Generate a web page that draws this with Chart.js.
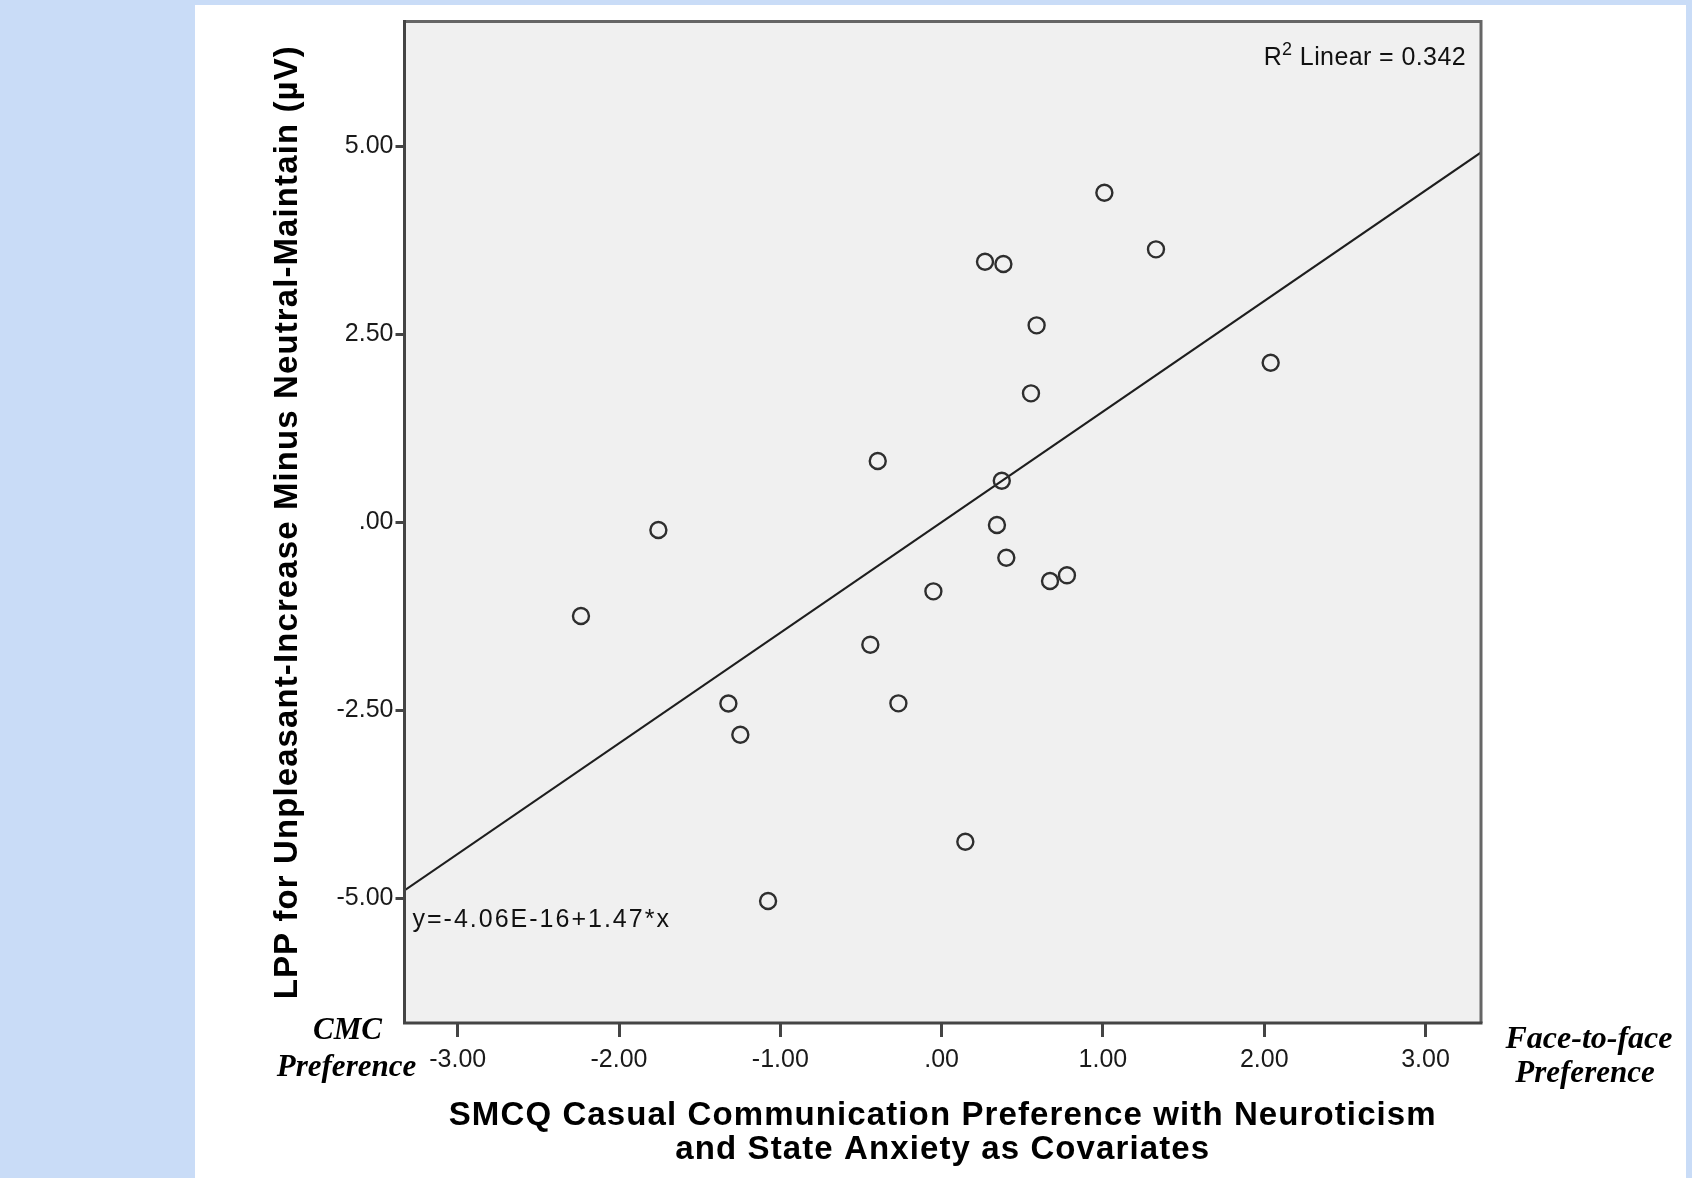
<!DOCTYPE html>
<html>
<head>
<meta charset="utf-8">
<title>LPP vs SMCQ Casual Communication Preference</title>
<script src="https://cdn.jsdelivr.net/npm/chart.js@4.4.1/dist/chart.umd.min.js"></script>
<style>
  html, body { margin: 0; padding: 0; background: #c9dcf7; }
  #wrap { width: 1692px; height: 1178px; }
  canvas { display: block; }
</style>
</head>
<body>
<div id="wrap"><canvas id="chart" width="1692" height="1178"></canvas></div>
<script>
// SMCQ casual communication preference (residualised on neuroticism and state anxiety)
const smcqPref = [1.009, 1.329, 0.269, 0.383, 0.589, 2.040, 0.554, -0.396, 0.373, -1.756, 0.343,
                  0.401, 0.672, 0.777, -0.051, -2.236, -0.442, -1.322, -0.268, -1.248, 0.147, -1.076];
// LPP difference score, unpleasant-increase minus neutral-maintain (µV)
const lppDiff = [4.38, 3.627, 3.463, 3.432, 2.617, 2.120, 1.713, 0.813, 0.552, -0.104, -0.037,
                 -0.472, -0.782, -0.706, -0.919, -1.247, -1.628, -2.410, -2.408, -2.825, -4.247, -5.035];

// Linear fit reported by the analysis
const fitIntercept = -4.06e-16;
const fitSlope = 1.47;
const r2Linear = 0.342;

// Axis extents and tick labels
const xRange = [-3.33, 3.344];
const yRange = [-6.657, 6.656];
const xTickValues = [-3, -2, -1, 0, 1, 2, 3];
const xTickLabels = ['-3.00', '-2.00', '-1.00', '.00', '1.00', '2.00', '3.00'];
const yTickValues = [-5, -2.5, 0, 2.5, 5];
const yTickLabels = ['-5.00', '-2.50', '.00', '2.50', '5.00'];

// Text
const xTitleLines = ['SMCQ Casual Communication Preference with Neuroticism', 'and State Anxiety as Covariates'];
const yTitle = 'LPP for Unpleasant-Increase Minus Neutral-Maintain (µV)';
const leftAnchor = ['CMC', 'Preference'];
const rightAnchor = ['Face-to-face', 'Preference'];

const points = smcqPref.map((x, i) => ({ x: x, y: lppDiff[i] }));
const fitLine = xRange.map(x => ({ x: x, y: fitIntercept + fitSlope * x }));

const SANS = '"Liberation Sans", Arial, sans-serif';
const SERIF = '"Liberation Serif", "Times New Roman", serif';

function eqText() {
  const b0 = fitIntercept.toExponential(2).toUpperCase();
  return 'y=' + b0 + '+' + fitSlope.toFixed(2) + '*x';
}

const backdrop = {
  id: 'backdrop',
  beforeDraw(chart) {
    const { ctx, chartArea: a, width, height } = chart;
    ctx.save();
    ctx.fillStyle = '#c9dcf7';
    ctx.fillRect(0, 0, width, height);
    ctx.fillStyle = '#ffffff';
    ctx.fillRect(195, 5, 1491, height - 5);
    ctx.fillStyle = '#f0f0f0';
    ctx.fillRect(a.left, a.top, a.right - a.left, a.bottom - a.top);
    ctx.restore();
  }
};

const frameAndText = {
  id: 'frameAndText',
  afterDraw(chart) {
    const { ctx, chartArea: a } = chart;
    ctx.save();
    // plot frame
    ctx.lineWidth = 3;
    ctx.strokeStyle = '#666666';
    ctx.beginPath();
    ctx.moveTo(a.left, a.top); ctx.lineTo(a.right, a.top); ctx.lineTo(a.right, a.bottom);
    ctx.stroke();
    ctx.strokeStyle = '#444444';
    ctx.beginPath();
    ctx.moveTo(a.left, a.top - 1.5); ctx.lineTo(a.left, a.bottom); ctx.lineTo(a.right + 1.5, a.bottom);
    ctx.stroke();

    ctx.fillStyle = '#111111';
    // R-squared note, top right
    ctx.textBaseline = 'alphabetic';
    ctx.letterSpacing = '0.4px';
    ctx.font = '25px ' + SANS;
    const rest = ' Linear = ' + r2Linear.toFixed(3);
    const wR = ctx.measureText('R').width;
    const wRest = ctx.measureText(rest).width;
    ctx.font = '18px ' + SANS;
    const wSup = ctx.measureText('2').width;
    const rx = a.right - 15 - (wR + wSup + wRest);
    const ry = a.top + 43;
    ctx.textAlign = 'left';
    ctx.font = '25px ' + SANS;
    ctx.fillText('R', rx, ry);
    ctx.font = '18px ' + SANS;
    ctx.fillText('2', rx + wR, ry - 10);
    ctx.font = '25px ' + SANS;
    ctx.fillText(rest, rx + wR + wSup, ry);

    // fit equation, bottom left
    ctx.letterSpacing = '2px';
    ctx.font = '25px ' + SANS;
    ctx.fillText(eqText(), a.left + 8, a.bottom - 96);

    // axis titles
    ctx.letterSpacing = '1.1px';
    ctx.font = 'bold 33px ' + SANS;
    ctx.textAlign = 'center';
    ctx.fillStyle = '#000000';
    const cx = (a.left + a.right) / 2;
    ctx.fillText(xTitleLines[0], cx, a.bottom + 102);
    ctx.fillText(xTitleLines[1], cx, a.bottom + 136);

    ctx.save();
    ctx.translate(a.left - 116.5, (a.top + a.bottom) / 2);
    ctx.rotate(-Math.PI / 2);
    ctx.textBaseline = 'middle';
    ctx.fillText(yTitle, 0, 0);
    ctx.restore();

    // direction labels beside the x axis
    ctx.letterSpacing = '0px';
    ctx.font = 'italic bold 31px ' + SERIF;
    ctx.textAlign = 'center';
    ctx.fillText(leftAnchor[0], a.left - 57, a.bottom + 16);
    ctx.fillText(leftAnchor[1], a.left - 58, a.bottom + 53);
    ctx.font = 'italic bold 32px ' + SERIF;
    ctx.fillText(rightAnchor[0], a.right + 108, a.bottom + 25);
    ctx.font = 'italic bold 31px ' + SERIF;
    ctx.fillText(rightAnchor[1], a.right + 104, a.bottom + 59);
    ctx.restore();
  }
};

const tickFont = { family: SANS, size: 25 };

new Chart(document.getElementById('chart'), {
  type: 'scatter',
  data: {
    datasets: [
      {
        label: 'Participants',
        data: points,
        pointStyle: 'circle',
        pointRadius: 8,
        pointHoverRadius: 8,
        pointBorderWidth: 2.4,
        borderColor: '#2e2e2e',
        backgroundColor: 'rgba(0,0,0,0)',
        order: 1
      },
      {
        type: 'line',
        label: 'Linear fit',
        data: fitLine,
        borderColor: '#1e1e1e',
        borderWidth: 2,
        pointRadius: 0,
        fill: false,
        tension: 0,
        order: 2
      }
    ]
  },
  options: {
    responsive: false,
    animation: false,
    devicePixelRatio: 1,
    layout: { padding: { left: 204.5, top: 21.5, right: 211, bottom: 55 } },
    plugins: {
      legend: { display: false },
      tooltip: { enabled: false },
      title: { display: false }
    },
    scales: {
      x: {
        type: 'linear',
        min: xRange[0],
        max: xRange[1],
        afterFit(scale) { scale.height = 100; },
        afterBuildTicks(scale) { scale.ticks = xTickValues.map(v => ({ value: v })); },
        border: { display: false },
        grid: { drawOnChartArea: false, drawTicks: true, tickLength: 14, tickWidth: 3, tickColor: '#444444' },
        ticks: {
          font: tickFont,
          color: '#1a1a1a',
          padding: 8,
          maxRotation: 0,
          autoSkip: false,
          callback: (value) => xTickLabels[xTickValues.indexOf(value)]
        }
      },
      y: {
        type: 'linear',
        min: yRange[0],
        max: yRange[1],
        afterFit(scale) { scale.width = 200; },
        afterBuildTicks(scale) { scale.ticks = yTickValues.map(v => ({ value: v })); },
        border: { display: false },
        grid: { drawOnChartArea: false, drawTicks: true, tickLength: 9, tickWidth: 3, tickColor: '#444444' },
        ticks: {
          font: tickFont,
          color: '#1a1a1a',
          padding: 2,
          autoSkip: false,
          callback: (value) => yTickLabels[yTickValues.indexOf(value)]
        }
      }
    }
  },
  plugins: [backdrop, frameAndText]
});
</script>
</body>
</html>
